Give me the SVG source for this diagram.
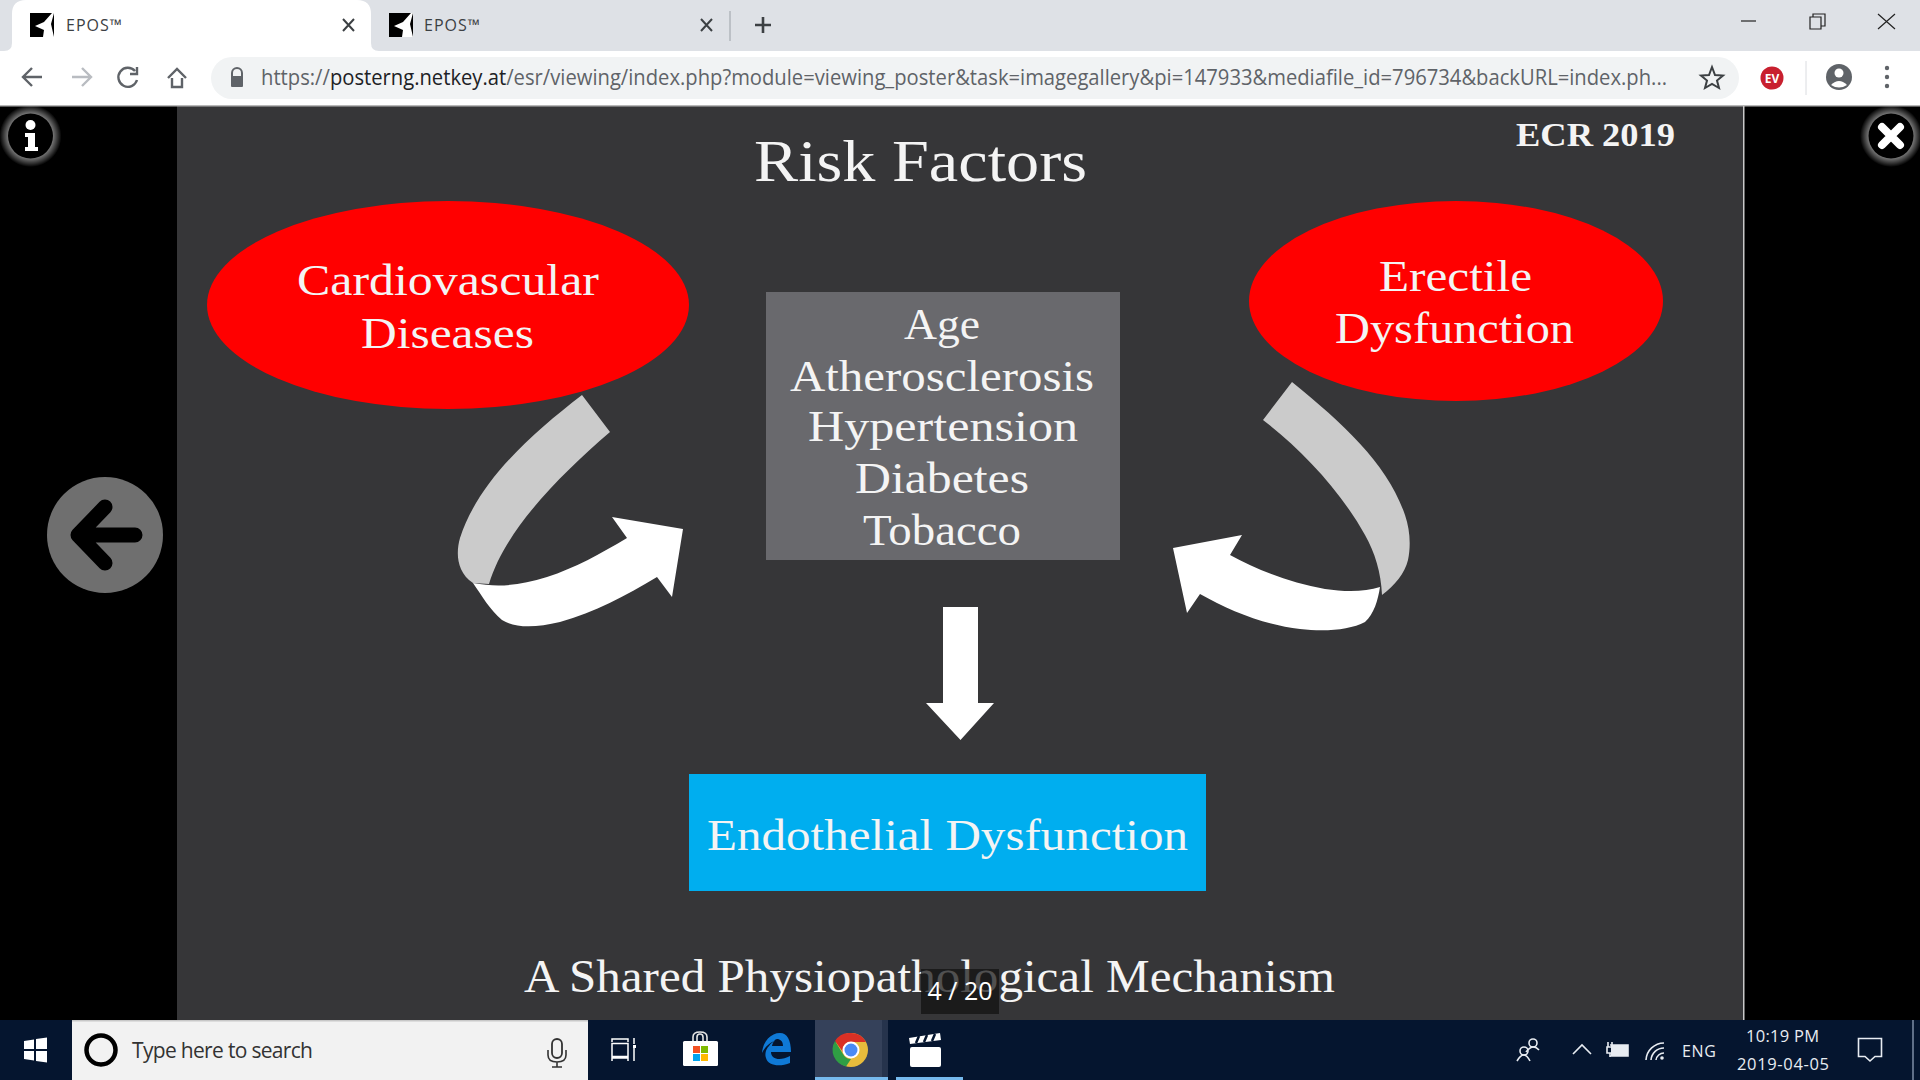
<svg xmlns="http://www.w3.org/2000/svg" width="1920" height="1080" viewBox="0 0 1920 1080">
  <style>
    .slide { font-family: "Liberation Serif", "DejaVu Serif", serif; fill: #f4f4f4; }
    .ui { font-family: "Open Sans", "Noto Sans", sans-serif; }
    .ico { fill: none; stroke: #5f6368; stroke-width: 2.4; }
    .tray { fill: none; stroke: #e8ecf2; stroke-width: 1.6; }
  </style>
  <defs>
    <radialGradient id="glow">
      <stop offset="0.7" stop-color="#fff" stop-opacity="0.5"/>
      <stop offset="1" stop-color="#fff" stop-opacity="0"/>
    </radialGradient>
    <symbol id="favicon" viewBox="0 0 24 24">
      <rect width="24" height="24" fill="#000"/>
      <path d="M24 0L21 11L24 24H13L14 17L5 13L14 9L22 0Z" fill="#fff"/>
    </symbol>
  </defs>

  <!-- window chrome -->
  <g id="browser">
    <rect width="1920" height="51" fill="#dee1e6"/>
    <rect y="51" width="1920" height="54" fill="#fff"/>
    <path d="M4 51Q12 51 12 43V14Q12 0 26 0H357Q371 0 371 14V43Q371 51 379 51Z" fill="#fff"/>
    <use href="#favicon" x="30" y="13" width="24" height="24"/>
    <text class="ui" x="66" y="31" font-size="16" fill="#3c4043" textLength="56">EPOS™</text>
    <path d="M343 19L354 31M354 19L343 31" stroke="#3c4043" stroke-width="2" fill="none"/>
    <use href="#favicon" x="389" y="13" width="24" height="24"/>
    <text class="ui" x="424" y="31" font-size="16" fill="#3c4043" textLength="56">EPOS™</text>
    <path d="M701 19L712 31M712 19L701 31" stroke="#3c4043" stroke-width="2" fill="none"/>
    <path d="M730 11V41" stroke="#9aa0a6" stroke-width="1"/>
    <path d="M763 17V33M755 25H771" stroke="#3c4043" stroke-width="2.6" fill="none"/>
    <path d="M1741 21H1756" stroke="#222" stroke-width="1.2"/>
    <path d="M1813 17V14H1825V26H1821M1810 17H1821V29H1810Z" stroke="#222" stroke-width="1.2" fill="none"/>
    <path d="M1878 14L1895 29M1895 14L1878 29" stroke="#222" stroke-width="1.2"/>
    <path d="M42 77H24M32 68L23 77L32 86" class="ico"/>
    <path d="M72 77H90M82 68L91 77L82 86" class="ico" style="stroke:#b9bcc1"/>
    <path d="M135 71A9.500 9.500 0 1 0 137 80M137 67V74H130" class="ico"/>
    <path d="M172 78V87H182V78M168 78L177 69L186 78" class="ico"/>
    <rect x="211" y="57" width="1528" height="42" rx="21" fill="#f1f3f4"/>
    <path d="M232 77V73A5 5 0 0 1 242 73V77" fill="none" stroke="#5f6368" stroke-width="2"/>
    <rect x="231" y="76" width="12" height="11" rx="1" fill="#5f6368"/>
    <text class="ui" x="261" y="85" font-size="21" fill="#5f6368" textLength="1406" lengthAdjust="spacingAndGlyphs">https://<tspan fill="#202124">posterng.netkey.at</tspan>/esr/viewing/index.php?module=viewing_poster&amp;task=imagegallery&amp;pi=147933&amp;mediafile_id=796734&amp;backURL=index.ph...</text>
    <path d="M1712 67L1715 75L1723 75.500L1717 80.500L1719 88L1712 84L1705 88L1707 80.500L1701 75.500L1709 75Z" fill="none" stroke="#3c4043" stroke-width="2"/>
    <circle cx="1772" cy="78" r="11.500" fill="#c8202f"/>
    <text class="ui" x="1772" y="83" font-size="12" font-weight="700" fill="#fff" text-anchor="middle">EV</text>
    <path d="M1806 61V95" stroke="#dadce0" stroke-width="1"/>
    <circle cx="1839" cy="77" r="13" fill="#5f6368"/>
    <circle cx="1839" cy="73" r="4.500" fill="#fff"/>
    <path d="M1831 85Q1839 77 1847 85Q1839 90 1831 85Z" fill="#fff"/>
    <g fill="#5f6368"><circle cx="1887" cy="68" r="2.200"/><circle cx="1887" cy="77" r="2.200"/><circle cx="1887" cy="86" r="2.200"/></g>
  </g>

  <!-- viewer backdrop and slide -->
  <rect y="105" width="1920" height="915" fill="#000"/>
  <rect x="177" y="105" width="1566" height="915" fill="#363638"/>
  <rect y="105" width="1920" height="1.500" fill="#b8b8b8"/>
  <rect x="1743" y="106" width="1.500" height="914" fill="#c9c9c9"/>

  <text class="slide" x="754" y="181" font-size="60" textLength="333" lengthAdjust="spacingAndGlyphs">Risk Factors</text>
  <text class="slide" x="1516" y="146" font-size="33" font-weight="700" textLength="159" lengthAdjust="spacingAndGlyphs">ECR 2019</text>

  <g id="cardiovascular">
    <ellipse cx="448" cy="305" rx="241" ry="104" fill="#f00"/>
    <text class="slide" x="297" y="295" font-size="45" textLength="302" lengthAdjust="spacingAndGlyphs">Cardiovascular</text>
    <text class="slide" x="361" y="348" font-size="45" textLength="173" lengthAdjust="spacingAndGlyphs">Diseases</text>
  </g>
  <g id="erectile">
    <ellipse cx="1456" cy="301" rx="207" ry="100" fill="#f00"/>
    <text class="slide" x="1379" y="291" font-size="45" textLength="153" lengthAdjust="spacingAndGlyphs">Erectile</text>
    <text class="slide" x="1335" y="343" font-size="45" textLength="239" lengthAdjust="spacingAndGlyphs">Dysfunction</text>
  </g>
  <g id="factors">
    <rect x="766" y="292" width="354" height="268" fill="#69696d"/>
    <text class="slide" x="904" y="339" font-size="45" textLength="76" lengthAdjust="spacingAndGlyphs">Age</text>
    <text class="slide" x="790" y="391" font-size="45" textLength="304" lengthAdjust="spacingAndGlyphs">Atherosclerosis</text>
    <text class="slide" x="808" y="441" font-size="45" textLength="270" lengthAdjust="spacingAndGlyphs">Hypertension</text>
    <text class="slide" x="855" y="493" font-size="45" textLength="174" lengthAdjust="spacingAndGlyphs">Diabetes</text>
    <text class="slide" x="863" y="545" font-size="45" textLength="158" lengthAdjust="spacingAndGlyphs">Tobacco</text>
  </g>
  <g id="endothelial">
    <rect x="689" y="774" width="517" height="117" fill="#00aeef"/>
    <text class="slide" x="707" y="850" font-size="45" textLength="481" lengthAdjust="spacingAndGlyphs">Endothelial Dysfunction</text>
  </g>
  <text class="slide" x="524" y="992" font-size="46" textLength="811" lengthAdjust="spacingAndGlyphs">A Shared Physiopathological Mechanism</text>

  <g id="connectors">
    <path d="M582 395L610 432C560 475 505 530 489 584L473 583C456 572 456 552 460 538C478 482 530 435 582 395Z" fill="#cbcbcb"/>
    <path d="M473 583C500 588 520 585 547 577C575 568 600 554 627 538L612 517L683 529L672 597L657 577C625 596 595 612 560 622C535 628 515 628 502 620C490 610 482 596 473 583Z" fill="#fff"/>
    <path d="M1292 382L1263 420C1300 448 1340 490 1365 535C1375 553 1381 572 1382 595C1395 585 1405 573 1408 560C1411 545 1410 530 1405 515C1388 465 1345 425 1292 382Z" fill="#cbcbcb"/>
    <path d="M1380 587C1365 592 1345 592 1325 589C1290 583 1258 570 1230 555L1242 535L1173 548L1187 613L1200 594C1230 611 1265 625 1300 629C1325 632 1350 630 1365 622C1374 614 1378 600 1380 587Z" fill="#fff"/>
    <path d="M943 607H978V703H994L960.500 740L926 703H943Z" fill="#fff"/>
  </g>

  <!-- viewer overlay controls -->
  <g id="info">
    <circle cx="30.500" cy="136" r="31" fill="url(#glow)"/>
    <circle cx="30.500" cy="136" r="22.500" fill="#000"/>
    <circle cx="30.500" cy="125" r="5" fill="#fff"/>
    <path d="M25 133H35V147H38V151H25V147H28V137H25Z" fill="#fff"/>
  </g>
  <g id="close">
    <circle cx="1891" cy="136" r="31" fill="url(#glow)"/>
    <circle cx="1891" cy="136" r="22.500" fill="#000"/>
    <path d="M1882 127L1900 145M1900 127L1882 145" stroke="#fff" stroke-width="8" stroke-linecap="round"/>
  </g>
  <g id="back">
    <circle cx="105" cy="535" r="58" fill="#6f6f6f"/>
    <path d="M135 535H80M105 507L78 535L105 563" fill="none" stroke="#000" stroke-width="15" stroke-linejoin="round" stroke-linecap="round"/>
  </g>
  <g id="counter">
    <rect x="921" y="969" width="78" height="45" fill="#111" opacity="0.72"/>
    <text class="ui" x="960" y="1000" font-size="25" fill="#fff" text-anchor="middle">4 / 20</text>
  </g>

  <!-- taskbar -->
  <g id="taskbar">
    <rect y="1020" width="1920" height="60" fill="#05152f"/>
    <path d="M24 1041L34 1039.500V1049H24ZM36 1039L47 1037.500V1049H36ZM24 1051H34V1060.500L24 1059ZM36 1051H47V1062.500L36 1061Z" fill="#fff"/>
    <rect x="72" y="1020" width="516" height="60" fill="#f2f2f2"/>
    <rect x="72" y="1020" width="516" height="1.500" fill="#c8c8c8"/>
    <circle cx="101" cy="1050" r="14.500" fill="none" stroke="#000" stroke-width="4.500"/>
    <text class="ui" x="132" y="1058" font-size="21" fill="#333" textLength="181">Type here to search</text>
    <rect x="552" y="1039" width="10" height="19" rx="5" fill="none" stroke="#333" stroke-width="1.800"/>
    <path d="M548 1050V1055Q548 1062 557 1062Q566 1062 566 1055V1050M557 1062V1067M552 1067H562" fill="none" stroke="#333" stroke-width="1.600"/>
    <path d="M612 1042V1039H628V1042M612 1043.500H628V1056.500H612ZM612 1061V1058H628V1061M634 1038V1044M634 1048V1061" fill="none" stroke="#fff" stroke-width="1.500"/>
    <rect x="633" y="1045" width="3" height="3" fill="#fff"/>
    <rect x="683" y="1041" width="35" height="25" rx="1.500" fill="#fff"/>
    <path d="M693 1041V1037Q693 1032 700 1032Q707 1032 707 1037V1041M697 1041V1037Q697 1034 700 1034Q703 1034 703 1037V1041" fill="none" stroke="#e4e4e4" stroke-width="1.600"/>
    <rect x="693" y="1046" width="7" height="7" fill="#f25022"/><rect x="701" y="1046" width="7" height="7" fill="#7fba00"/>
    <rect x="693" y="1054" width="7" height="7" fill="#00a4ef"/><rect x="701" y="1054" width="7" height="7" fill="#ffb900"/>
    <path d="M762 1053C763 1041 771 1033 780 1033C787 1033 791 1040 791 1052H771C771 1060 781 1061 790 1056V1063C780 1067 768 1066 766 1058C765 1055 765 1050 769 1046C771 1043 773 1042 775 1041C770 1042 765 1047 762 1053ZM772 1046H783C783 1041 780 1039 777 1039C775 1039 773 1042 772 1046Z" fill="#0f79d6" fill-rule="evenodd"/>
    <rect x="815" y="1020" width="67" height="60" fill="#35415a"/>
    <rect x="882" y="1020" width="6" height="60" fill="#26334c"/>
    <rect x="815" y="1077" width="73" height="3" fill="#76b9ed"/>
    <circle cx="851" cy="1050" r="17" fill="#e8bc3c"/>
    <path d="M851 1033A17 17 0 0 1 866 1042H851A8 8 0 0 0 843 1052L835 1041A17 17 0 0 1 851 1033Z" fill="#d93025"/>
    <path d="M835 1041L843 1054A9 9 0 0 0 851 1059L846 1066.500A17 17 0 0 1 835 1041Z" fill="#2f9e44"/>
    <circle cx="851" cy="1050" r="8.500" fill="#fff"/><circle cx="851" cy="1050" r="6.500" fill="#4a8af4"/>
    <rect x="896" y="1077" width="67" height="3" fill="#76b9ed"/>
    <rect x="910" y="1047" width="31" height="20" rx="2" fill="#fff"/>
    <path d="M909 1038L940 1033L941 1040L910 1044Z" fill="#fff"/>
    <path d="M916 1043L919 1036M924 1042L927 1035M932 1041L935 1034" stroke="#05152f" stroke-width="2.500"/>
    <circle cx="1533" cy="1043" r="4" class="tray"/><path d="M1526 1052Q1533 1043 1539 1050" class="tray"/>
    <circle cx="1524" cy="1051" r="4" class="tray"/><path d="M1517 1061Q1524 1049 1530 1061" class="tray"/>
    <path d="M1573 1054L1582 1045L1591 1054" class="tray"/>
    <rect x="1611" y="1045" width="17" height="11" fill="#e8ecf2"/>
    <path d="M1610 1045H1628V1056H1610" class="tray"/>
    <path d="M1607 1047V1053H1613V1047ZM1610 1053V1057M1608 1047V1042M1612 1047V1042" class="tray"/>
    <path d="M1646 1060A18 18 0 0 1 1664 1043M1651 1060A13 13 0 0 1 1664 1048M1656 1060A8 8 0 0 1 1664 1053" class="tray"/>
    <circle cx="1662" cy="1058" r="1.800" fill="#e8ecf2"/>
    <text class="ui" x="1682" y="1057" font-size="16" fill="#e8ecf2" textLength="34">ENG</text>
    <text class="ui" x="1746" y="1042" font-size="16.500" fill="#e8ecf2" textLength="73">10:19 PM</text>
    <text class="ui" x="1737" y="1070" font-size="16.500" fill="#e8ecf2" textLength="92">2019-04-05</text>
    <path d="M1858.500 1038.500H1881.500V1056.500H1875L1870 1061L1865 1056.500H1858.500Z" class="tray"/>
    <rect x="1912" y="1020" width="2" height="60" fill="#5f6f88"/>
  </g>
</svg>
